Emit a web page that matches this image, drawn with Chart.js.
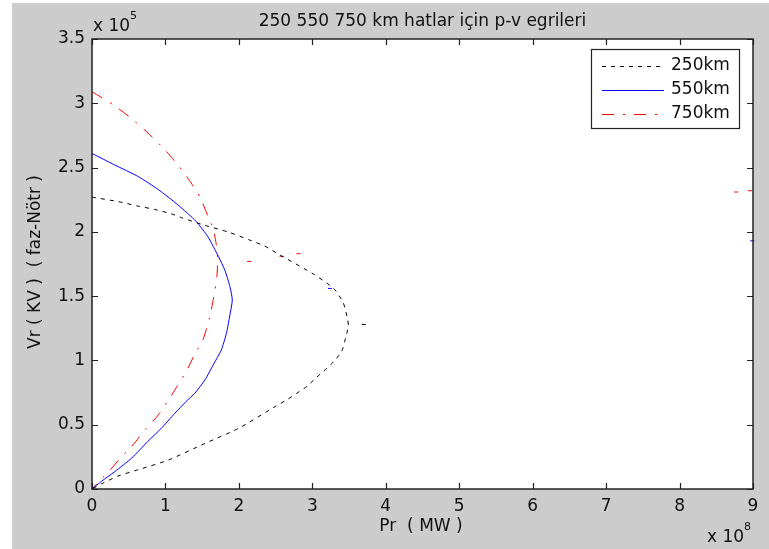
<!DOCTYPE html>
<html>
<head>
<meta charset="utf-8">
<title>p-v egrileri</title>
<script src="https://cdn.jsdelivr.net/npm/chart.js@4/dist/chart.umd.min.js"></script>
<style>
  html, body { margin: 0; padding: 0; background: #fff; }
  canvas { display: block; }
</style>
</head>
<body>
<canvas id="pv" width="769" height="549"></canvas>
<script>
// Pr in units of 1e8, Vr in units of 1e5
const p250 = [0, 0.36, 0.63, 0.85, 1.08, 1.22, 1.54, 1.85, 2.13, 2.35, 2.56, 3.02, 3.29, 3.42, 3.48, 3.49, 3.46, 3.40, 3.29, 3.20, 3.06, 2.93, 2.79, 2.67, 2.49, 1.99, 1.54, 1.04, 0.63, 0.35, 0.13, 0];
const v250 = [2.27, 2.235, 2.20, 2.175, 2.14, 2.11, 2.05, 2.00, 1.94, 1.89, 1.82, 1.67, 1.56, 1.45, 1.32, 1.27, 1.19, 1.07, 0.99, 0.94, 0.87, 0.80, 0.745, 0.70, 0.64, 0.47, 0.355, 0.225, 0.15, 0.10, 0.04, 0];

const p550 = [0, 0.31, 0.63, 0.90, 1.17, 1.42, 1.58, 1.72, 1.81, 1.88, 1.91, 1.88, 1.83, 1.76, 1.65, 1.54, 1.40, 1.28, 1.13, 0.94, 0.76, 0.54, 0.31, 0.13, 0];
const v550 = [2.61, 2.52, 2.43, 2.33, 2.21, 2.08, 1.96, 1.81, 1.70, 1.57, 1.47, 1.36, 1.21, 1.08, 0.965, 0.85, 0.745, 0.68, 0.59, 0.47, 0.37, 0.24, 0.135, 0.06, 0];

const p750 = [0, 0.31, 0.54, 0.76, 0.99, 1.17, 1.35, 1.47, 1.58, 1.65, 1.69, 1.71, 1.70, 1.66, 1.60, 1.51, 1.40, 1.28, 1.16, 1.04, 0.88, 0.72, 0.54, 0.40, 0.22, 0.13, 0];
const v750 = [3.09, 2.98, 2.88, 2.77, 2.64, 2.52, 2.38, 2.27, 2.12, 2.02, 1.91, 1.79, 1.65, 1.50, 1.33, 1.16, 1.05, 0.91, 0.80, 0.69, 0.56, 0.46, 0.33, 0.25, 0.13, 0.08, 0];

// loose specks left over in the plot
const strayP250 = [3.70];
const strayV250 = [1.28];
const strayP550 = [3.24, 8.99];
const strayV550 = [1.56, 1.93];
const strayP750 = [2.14, 2.58, 2.81, 8.77, 8.96];
const strayV750 = [1.77, 1.81, 1.83, 2.31, 2.32];

const seriesNames = ['250km', '550km', '750km'];
const xTicks = [0, 1, 2, 3, 4, 5, 6, 7, 8, 9];
const yTicks = [0, 0.5, 1, 1.5, 2, 2.5, 3, 3.5];

const FONT = "'DejaVu Sans', sans-serif";
const BG = '#cccccc';

function pts(xs, ys) {
  return xs.map((x, i) => ({ x, y: ys[i] }));
}

function curve(label, xs, ys, color, dash) {
  return {
    label,
    data: pts(xs, ys),
    showLine: true,
    borderColor: color,
    backgroundColor: color,
    borderWidth: 1,
    borderDash: dash,
    pointRadius: 0,
    tension: 0.2,
  };
}

function specks(xs, ys, color) {
  return {
    label: '',
    data: pts(xs, ys),
    showLine: false,
    pointStyle: 'line',
    pointRadius: 2,
    borderColor: color,
    borderWidth: 1,
    clip: false,
  };
}

const framePlugin = {
  id: 'frame',
  beforeDraw(chart) {
    const { ctx, chartArea: a } = chart;
    ctx.save();
    ctx.fillStyle = '#ffffff';
    ctx.fillRect(0, 0, chart.width, chart.height);
    ctx.fillStyle = BG;
    ctx.fillRect(12, 3, chart.width - 12, chart.height - 3);
    ctx.fillStyle = '#ffffff';
    ctx.fillRect(a.left, a.top, a.right - a.left, a.bottom - a.top);
    ctx.restore();
  },
  afterDraw(chart) {
    const { ctx, chartArea: a, scales } = chart;
    const xs = scales.x, ys = scales.y;
    ctx.save();

    // box and inward ticks
    ctx.strokeStyle = '#222';
    ctx.lineWidth = 1.5;
    ctx.strokeRect(a.left, a.top, a.right - a.left, a.bottom - a.top);
    ctx.lineWidth = 1.2;
    ctx.beginPath();
    xTicks.forEach(t => {
      const px = Math.round(xs.getPixelForValue(t)) + 0.5;
      ctx.moveTo(px, a.bottom); ctx.lineTo(px, a.bottom - 6);
      ctx.moveTo(px, a.top); ctx.lineTo(px, a.top + 6);
    });
    yTicks.forEach(t => {
      const py = Math.round(ys.getPixelForValue(t)) + 0.5;
      ctx.moveTo(a.left, py); ctx.lineTo(a.left + 6, py);
      ctx.moveTo(a.right, py); ctx.lineTo(a.right - 6, py);
    });
    ctx.stroke();

    // texts
    ctx.fillStyle = '#111';
    ctx.textBaseline = 'middle';
    ctx.font = `17px ${FONT}`;
    ctx.textAlign = 'center';
    ctx.fillText('250 550 750 km hatlar için p-v egrileri', (a.left + a.right) / 2, 22);
    ctx.fillText('Pr  ( MW )', 421, 527);

    ctx.save();
    ctx.translate(36, 262);
    ctx.rotate(-Math.PI / 2);
    ctx.fillText('Vr ( KV )  ( faz-Nötr )', 0, 0);
    ctx.restore();

    // exponent labels
    ctx.textAlign = 'left';
    ctx.font = `17px ${FONT}`;
    ctx.fillText('x 10', 93, 27);
    ctx.fillText('x 10', 707, 538);
    ctx.font = `11px ${FONT}`;
    ctx.fillText('5', 130, 16);
    ctx.fillText('8', 744, 527);

    // legend
    const lx = 591, ly = 49, lw = 148, lh = 79;
    ctx.fillStyle = '#ffffff';
    ctx.fillRect(lx, ly, lw, lh);
    ctx.strokeStyle = '#222';
    ctx.lineWidth = 1.2;
    ctx.strokeRect(lx + 0.5, ly + 0.5, lw, lh);
    const rows = [66, 90, 114];
    ctx.font = `17px ${FONT}`;
    chart.data.datasets.slice(0, 3).forEach((ds, i) => {
      const y = rows[i];
      ctx.strokeStyle = ds.borderColor;
      ctx.lineWidth = 1;
      ctx.setLineDash(ds.borderDash || []);
      ctx.beginPath();
      ctx.moveTo(602, y + 0.5);
      ctx.lineTo(664, y + 0.5);
      ctx.stroke();
      ctx.setLineDash([]);
      ctx.fillStyle = '#111';
      ctx.fillText(ds.label, 671, y);
    });
    ctx.restore();
  },
};

const tickFont = { family: FONT, size: 17 };

new Chart(document.getElementById('pv'), {
  type: 'scatter',
  data: {
    datasets: [
      curve(seriesNames[0], p250, v250, '#000000', [4, 5]),
      curve(seriesNames[1], p550, v550, '#0000ff', []),
      curve(seriesNames[2], p750, v750, '#ff0000', [12, 9, 2, 9]),
      specks(strayP250, strayV250, '#000000'),
      specks(strayP550, strayV550, '#0000ff'),
      specks(strayP750, strayV750, '#ff0000'),
    ],
  },
  options: {
    responsive: false,
    animation: false,
    layout: { padding: { top: 39, right: 16, left: 0, bottom: 0 } },
    plugins: { legend: { display: false }, tooltip: { enabled: false } },
    scales: {
      x: {
        type: 'linear', min: 0, max: 9,
        afterFit(s) { s.height = 60; },
        afterBuildTicks(s) { s.ticks = xTicks.map(v => ({ value: v })); },
        grid: { display: false, drawTicks: false },
        border: { display: false },
        ticks: { color: '#111', padding: 7, font: tickFont, callback: v => String(v) },
      },
      y: {
        type: 'linear', min: 0, max: 3.5,
        afterFit(s) { s.width = 92; },
        afterBuildTicks(s) { s.ticks = yTicks.map(v => ({ value: v })); },
        grid: { display: false, drawTicks: false },
        border: { display: false },
        ticks: { color: '#111', padding: 7, font: tickFont, callback: v => String(v) },
      },
    },
  },
  plugins: [framePlugin],
});
</script>
</body>
</html>
